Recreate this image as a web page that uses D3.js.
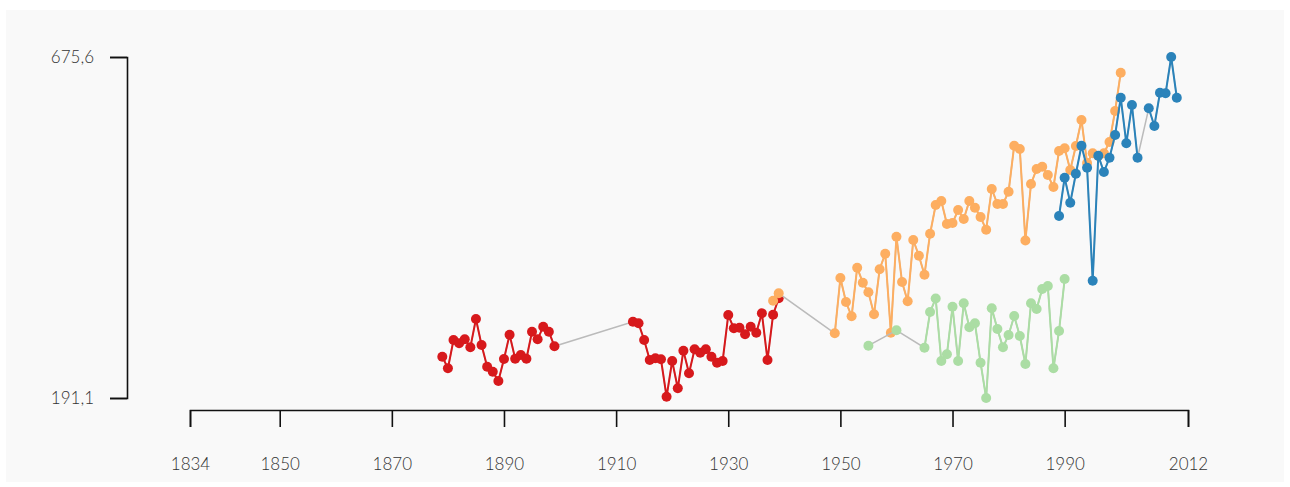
<!DOCTYPE html>
<html>
<head>
<meta charset="utf-8">
<script src="https://cdn.jsdelivr.net/npm/d3@7/dist/d3.min.js"></script>
<style>
  html, body { margin: 0; padding: 0; background: #ffffff; }
  svg { display: block; }
  .tick text { font-family: Lato, "Open Sans", sans-serif; font-weight: 300; font-size: 17px; fill: #333; }
</style>
</head>
<body>
<svg id="chart" width="1290" height="487"></svg>
<script>
// ---- data ----
const xTicks = [1834, 1850, 1870, 1890, 1910, 1930, 1950, 1970, 1990, 2012];
const yTicks = [191.1, 675.6];

const redStart = 1879;
const redValues = [249.8, 233.3, 273.5, 268.8, 274.5, 263.1, 303.3, 266.4, 235.6, 228.5,
  215.3, 246.5, 281.0, 246.9, 252.2, 246.9, 285.3, 274.5, 292.4, 285.3, 264.6,
  null, null, null, null, null, null, null, null, null, null, null, null, null,
  299.5, 297.2, 273.5, 245.1, 247.5, 246.1, 192.9, 243.7, 204.9, 258.3, 226.2, 260.3,
  255.5, 260.3, 249.8, 241.3, 243.7, 309.0, 290.1, 291.0, 281.6, 292.4, 283.9, 311.4,
  245.1, 309.5, 332.8];

const orangeStart = 1938;
const orangeValues = [329.3, 339.9,
  null, null, null, null, null, null, null, null, null,
  283.0, 361.6, 327.5, 307.2, 376.2, 354.9, 341.3, 310.0, 374.0, 396.1, 283.9,
  420.3, 355.9, 328.5, 415.6, 393.3, 366.3, 424.5, 465.3, 471.0, 438.3, 439.7,
  458.2, 445.4, 471.0, 461.5, 448.3, 430.2, 488.1, 466.7, 466.7, 484.2, 549.6,
  544.9, 414.9, 495.2, 516.5, 519.7, 507.9, 490.9, 542.0, 545.9, 515.0, 549.1,
  586.1, 525.0, 538.8, 534.9, 538.8, 554.8, 598.9, 653.3];

const greenStart = 1955;
const greenValues = [265.4, null, null, null, null, 287.3, null, null, null, null,
  262.6, 313.3, 332.5, 243.7, 253.2, 320.8, 243.7, 325.7, 291.6, 297.2, 241.3,
  191.1, 318.5, 289.1, 263.1, 280.6, 307.6, 279.2, 239.4, 325.7, 317.6, 346.0,
  350.2, 233.3, 286.3, 360.2];

const blueStart = 1989;
const blueValues = [449.7, 504.1, 468.6, 509.8, 549.6, 518.3, 357.8, 535.4, 512.2,
  532.5, 564.8, 617.8, 553.0, 607.4, 532.5, null, 602.7, 577.6, 624.9, 624.0,
  675.6, 617.8];

const seriesColors = ["#d7191c", "#fdae61", "#abdda4", "#2b83ba"];

// ---- build ----
function toPoints(start, values) {
  return values.map((v, i) => ({ year: start + i, value: v }));
}
const series = [
  toPoints(redStart, redValues),
  toPoints(orangeStart, orangeValues),
  toPoints(greenStart, greenValues),
  toPoints(blueStart, blueValues)
];

const svg = d3.select("#chart");
svg.append("rect")
  .attr("x", 6).attr("y", 10)
  .attr("width", 1278).attr("height", 472)
  .attr("fill", "#f9f9f9");

const x = d3.scaleLinear().domain([1834, 2012]).range([190, 1188]);
const y = d3.scaleLinear().domain([191.1, 675.6]).range([398, 57]);

const fmt = v => d3.format(".1f")(v).replace(".", ",");

const yAxis = svg.append("g")
  .attr("transform", "translate(127,0)")
  .call(d3.axisLeft(y).tickValues(yTicks).tickFormat(fmt).tickSize(17).tickPadding(16));
const xAxis = svg.append("g")
  .attr("transform", "translate(0,410)")
  .call(d3.axisBottom(x).tickValues(xTicks).tickFormat(d3.format("d")).tickSize(17).tickPadding(31));
[yAxis, xAxis].forEach(g => {
  g.selectAll("path.domain").attr("stroke", "#111").attr("stroke-width", 1.6);
  g.selectAll(".tick line").attr("stroke", "#111").attr("stroke-width", 1.6);
});

const line = d3.line()
  .defined(d => d.value !== null)
  .x(d => x(d.year))
  .y(d => y(d.value));

series.forEach((pts, i) => {
  const g = svg.append("g");
  const defined = pts.filter(d => d.value !== null);
  g.append("path")
    .attr("d", line(defined))
    .attr("fill", "none")
    .attr("stroke", "#bbb")
    .attr("stroke-width", 1.5);
  g.append("path")
    .attr("d", line(pts))
    .attr("fill", "none")
    .attr("stroke", seriesColors[i])
    .attr("stroke-width", 2);
  g.selectAll("circle")
    .data(defined)
    .join("circle")
    .attr("cx", d => x(d.year))
    .attr("cy", d => y(d.value))
    .attr("r", 5)
    .attr("fill", seriesColors[i]);
});
</script>
</body>
</html>
